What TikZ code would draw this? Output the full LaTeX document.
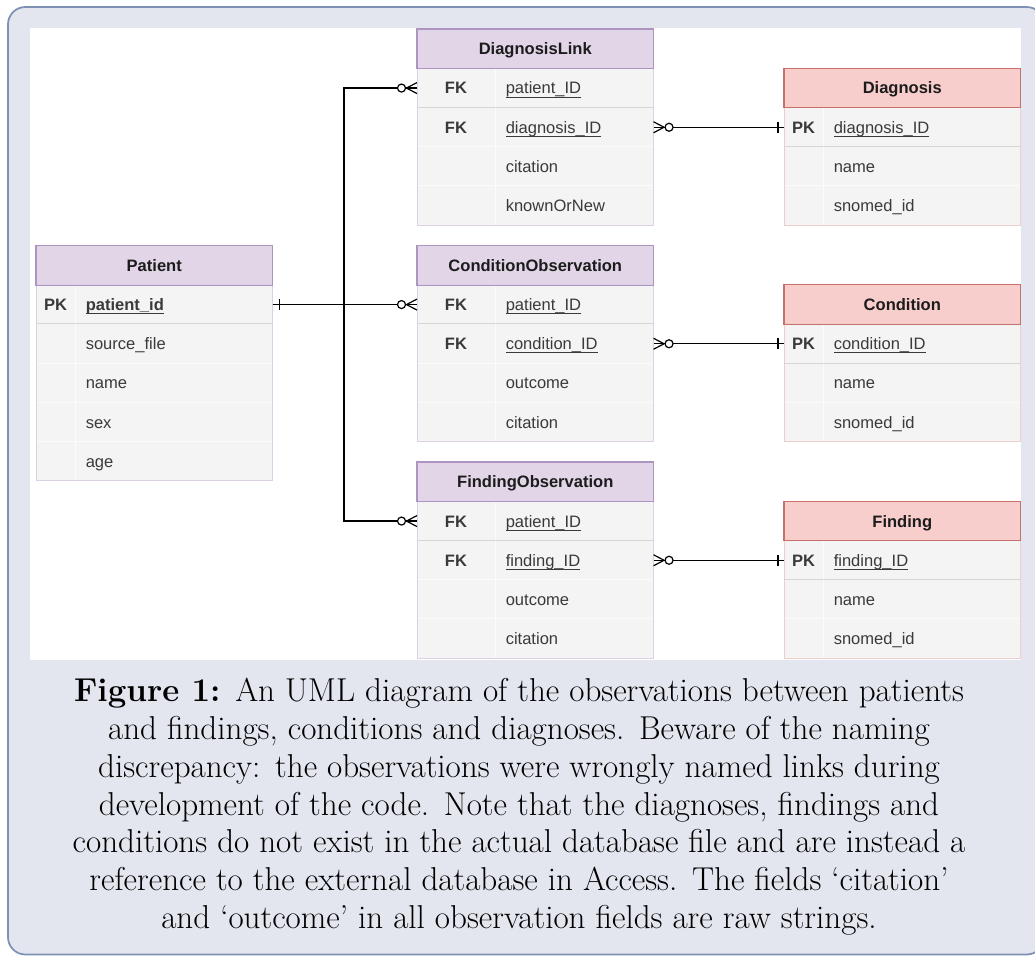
\documentclass[tikz,border=0pt]{standalone}
\usepackage{fontspec}
\usetikzlibrary{calc}

\newfontfamily\tabsans{Liberation Sans}
\newcommand\tabhead{\tabsans\bfseries\fontsize{12.4}{14}\selectfont}
\newcommand\tabkey{\tabsans\bfseries\fontsize{12.4}{14}\selectfont}
\newcommand\tabfield{\tabsans\fontsize{12.4}{14}\selectfont}
% underlined key field names
\newsavebox\keybox
\newcommand\undl[1]{\sbox\keybox{#1}\rlap{\rule[-2.6pt]{\wd\keybox}{0.7pt}}\usebox\keybox}
\newcommand\pkey[1]{\undl{\bfseries #1}}
\newcommand\fkey[1]{\undl{#1}}
% caption type with wider space after sentence ends
\newcommand\capfont{\fontsize{24.8}{28.4}\selectfont\xspaceskip=0.444em plus 0.1em\relax}

\definecolor{pagebg}{RGB}{227,230,238}
\definecolor{pageframe}{RGB}{126,144,180}
\definecolor{purplehdr}{HTML}{E1D5E7}
\definecolor{purpleline}{HTML}{AE95C0}
\definecolor{purplebody}{HTML}{DCD0E4}
\definecolor{redhdr}{HTML}{F8CECC}
\definecolor{redline}{HTML}{C8706C}
\definecolor{redbody}{HTML}{EFCDCD}
\definecolor{rowfill}{HTML}{F4F4F4}
\definecolor{rowsoft}{HTML}{FBFBFB}
\definecolor{rowkey}{HTML}{D6D6D6}
\definecolor{titleink}{HTML}{1C1C1C}
\definecolor{fieldink}{HTML}{3A3A3A}

\tikzset{
  conn/.style={draw=black, line width=0.95pt},
  hdrcell/.style={rectangle, anchor=north west, minimum width=177pt,
    minimum height=29.4pt, inner sep=0pt, fill=#1hdr, font=\tabhead,
    text=titleink, text height=8.9pt, text depth=0pt},
  rowcell/.style={rectangle, anchor=north west, minimum width=177pt,
    minimum height=29.4pt, inner sep=0pt, fill=rowfill},
  keytext/.style={anchor=center, inner sep=0pt, font=\tabkey, text=fieldink,
    text height=8.9pt, text depth=0pt},
  fieldtext/.style={anchor=west, inner sep=0pt, font=\tabfield, text=fieldink,
    text height=8.9pt, text depth=0pt},
  softrule/.style={draw=rowsoft, line width=0.75pt},
  keyrule/.style={draw=rowkey, line width=0.75pt},
  bodyline/.style={draw=#1body, line width=0.75pt},
  hdrline/.style={draw=#1line, line width=0.8pt},
  zeromany/.pic={
    \draw[line width=0.9pt] (-10.5,0) -- (0,-5.5);
    \draw[line width=0.9pt] (-10.5,0) -- (0,5.5);
    \draw[line width=0.9pt, fill=white] (-15.5,0) circle[radius=3pt];
  },
  onebar/.pic={
    \draw[line width=0.9pt] (-6,-5.5) -- (-6,5.5);
  },
  caption/.style={align=center, inner sep=0pt, anchor=north,
    font=\capfont, text=black}
}

% #1 id, #2 left x, #3 top y, #4 key column width, #5 colour set,
% #6 title, #7 rows (key/field), #8 number of rows
\newcommand\ertable[8]{%
  \node[hdrcell=#5] (#1-h) at (#2,#3) {#6};
  \foreach \k/\f [count=\i] in {#7} {
    \node[rowcell] (#1-\i) at (#2,{#3+39.2*\i}) {};
    \node[keytext] (#1-\i-k) at ($(#1-\i.west)+({#4/2},0)$) {\k};
    \node[fieldtext] (#1-\i-f) at ($(#1-\i.west)+({#4+10.5},0)$) {\f};
  }
  \draw[softrule] ({#2+#4},{#3+39.2}) -- ({#2+#4},{#3+39.2*(#8+1)});
  \foreach \j in {2,...,#8}
    \draw[softrule] (#2,{#3+39.2*\j}) -- ++(236,0);
  \draw[keyrule] (#2,{#3+78.4}) -- ++(236,0);
  \draw[bodyline=#5] (#2,{#3+39.2}) rectangle ({#2+236},{#3+39.2*(#8+1)});
  \draw[hdrline=#5] (#1-h.south west) rectangle (#1-h.north east);
}

\begin{document}
\begin{tikzpicture}[x=0.75pt,y=-0.75pt]
\useasboundingbox (0,0) rectangle (1035,956);

% framed figure box and drawing panel
\draw[pageframe, line width=1.3pt, fill=pagebg, rounded corners=13pt]
  (8,7) rectangle (1044,954.5);
\fill[white] (30,28) rectangle (1021,660);

% entity tables
\ertable{pat}{36}{245.5}{39}{purple}{Patient}
  {PK/\pkey{patient\_id}, /source\_file, /name, /sex, /age}{5}
\ertable{dl}{417}{29}{78}{purple}{DiagnosisLink}
  {FK/\fkey{patient\_ID}, FK/\fkey{diagnosis\_ID}, /citation, /knownOrNew}{4}
\ertable{co}{417}{245.5}{78}{purple}{ConditionObservation}
  {FK/\fkey{patient\_ID}, FK/\fkey{condition\_ID}, /outcome, /citation}{4}
\ertable{fo}{417}{462}{78}{purple}{FindingObservation}
  {FK/\fkey{patient\_ID}, FK/\fkey{finding\_ID}, /outcome, /citation}{4}
\ertable{dg}{784}{68.2}{39}{red}{Diagnosis}
  {PK/\fkey{diagnosis\_ID}, /name, /snomed\_id}{3}
\ertable{cd}{784}{284.7}{39}{red}{Condition}
  {PK/\fkey{condition\_ID}, /name, /snomed\_id}{3}
\ertable{fd}{784}{501.2}{39}{red}{Finding}
  {PK/\fkey{finding\_ID}, /name, /snomed\_id}{3}

% relationships
\coordinate (trunk) at (344,0);
\draw[conn] (pat-1.east) -- (co-1.west);
\draw[conn] (dl-1.west) -- (dl-1.west -| trunk) |- (fo-1.west);
\draw[conn] (dl-2.east) -- (dg-1.west);
\draw[conn] (co-2.east) -- (cd-1.west);
\draw[conn] (fo-2.east) -- (fd-1.west);

\pic[xscale=-1] at ($(pat-1.east)+(1,0)$) {onebar};
\pic at (dl-1.west) {zeromany};
\pic at (co-1.west) {zeromany};
\pic at (fo-1.west) {zeromany};
\pic[xscale=-1] at (dl-2.east) {zeromany};
\pic[xscale=-1] at (co-2.east) {zeromany};
\pic[xscale=-1] at (fo-2.east) {zeromany};
\pic at (dg-1.west) {onebar};
\pic at (cd-1.west) {onebar};
\pic at (fd-1.west) {onebar};

% caption
\node[caption] (cap) at (519,677.8) {%
  \textbf{Figure 1:} An UML diagram of the observations between patients\\
  and findings, conditions and diagnoses. Beware of the naming\\
  discrepancy: the observations were wrongly named links during\\
  development of the code. Note that the diagnoses, findings and\\
  conditions do not exist in the actual database file and are instead a\\
  reference to the external database in Access. The fields `citation'\\
  and `outcome' in all observation fields are raw strings.};
\end{tikzpicture}
\end{document}
